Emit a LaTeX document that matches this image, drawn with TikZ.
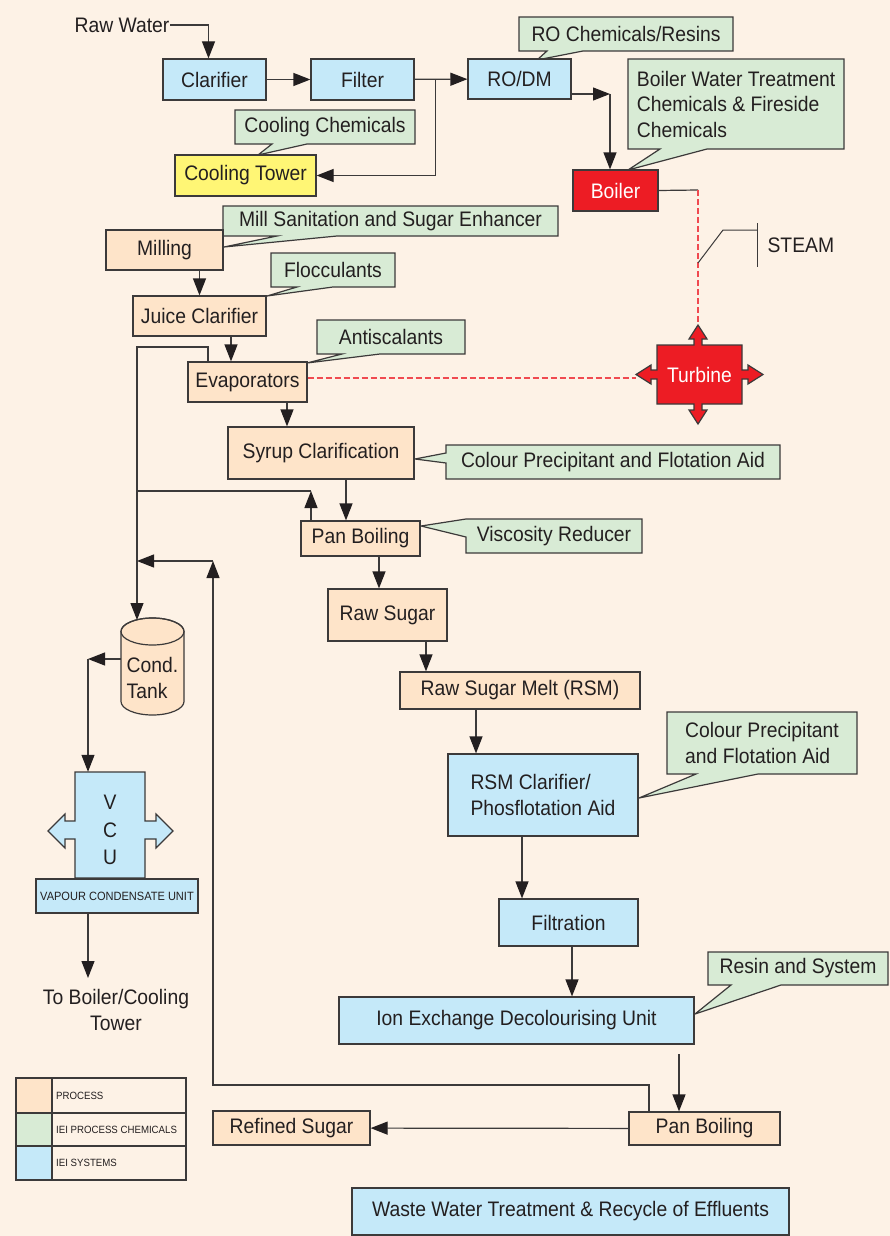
\documentclass[tikz,border=0pt]{standalone}
\usepackage{fontspec}
\setmainfont{Liberation Sans}[FakeStretch=0.92]
\usetikzlibrary{positioning, calc, arrows.meta, shapes.geometric}
\definecolor{bgpeach}{HTML}{FDF2E6}
\definecolor{procfill}{HTML}{FEE4C9}
\definecolor{chemfill}{HTML}{D8EBD5}
\definecolor{sysfill}{HTML}{C5E9F9}
\definecolor{towerfill}{HTML}{FFF675}
\definecolor{hotred}{HTML}{ED1C24}
\definecolor{steamred}{HTML}{F04A50}
\definecolor{linegray}{HTML}{3C3A3A}
\definecolor{inkgray}{HTML}{231F20}
\tikzset{
  box/.style={draw=linegray, line width=1.2pt, inner sep=0pt, text=inkgray, font=\fontsize{21}{25.5}\selectfont},
  proc/.style={box, fill=procfill},
  sys/.style={box, fill=sysfill},
  chembg/.style={draw=linegray, line width=1.2pt, fill=chemfill, line join=miter},
  chemtxt/.style={box, draw=none},
  flow/.style={draw=linegray, line width=1.2pt, -{Triangle[length=17pt,width=13pt,color=inkgray]}},
  pipe/.style={draw=linegray, line width=1.2pt},
  steampipe/.style={draw=steamred, line width=1.1pt, dash pattern=on 6pt off 3pt},
  legendtxt/.style={anchor=west, inner sep=0pt, text=inkgray, font=\fontsize{10.5}{12}\selectfont},
}
\begin{document}
\begin{tikzpicture}[x=1pt,y=-1pt]
\fill[bgpeach] (0,0) rectangle (890,1236);
\useasboundingbox (0,0) rectangle (890,1236);

\draw[chembg] (519,17) -- (733,17) -- (733,51) -- (583,51) -- (537,60) -- (547,51) -- (519,51) -- cycle;
\node[chemtxt] (rochem) at (626,34) {RO Chemicals/Resins};
\draw[chembg] (628,59) -- (844,59) -- (844,149) -- (707,149) -- (628,170) -- (660,149) -- (628,149) -- cycle;
\node[chemtxt, align=left] (boilchem) at (736,104) {Boiler Water Treatment\\Chemicals \& Fireside\\Chemicals};
\draw[chembg] (235,110) -- (415,110) -- (415,144) -- (307,144) -- (258,155) -- (272,144) -- (235,144) -- cycle;
\node[chemtxt] (coolchem) at (325,127) {Cooling Chemicals};
\draw[chembg] (223,206) -- (558,206) -- (558,236) -- (337,236) -- (224,247) -- (277,236) -- (223,236) -- cycle;
\node[chemtxt] (millchem) at (390.5,221) {Mill Sanitation and Sugar Enhancer};
\draw[chembg] (271,253) -- (395,253) -- (395,287) -- (333,287) -- (267,296) -- (297,287) -- (271,287) -- cycle;
\node[chemtxt] (flocc) at (333,270) {Flocculants};
\draw[chembg] (317,320) -- (465,320) -- (465,354) -- (380,354) -- (307,363) -- (342,354) -- (317,354) -- cycle;
\node[chemtxt] (anti) at (391,337) {Antiscalants};
\draw[chembg] (446,445) -- (780,445) -- (780,479) -- (446,479) -- (446,463) -- (415,459) -- (446,453) -- cycle;
\node[chemtxt] (colprec) at (613,462) {Colour Precipitant and Flotation Aid};
\draw[chembg] (466,519) -- (642,519) -- (642,553) -- (466,553) -- (466,537) -- (421,526) -- cycle;
\node[chemtxt] (visc) at (554,536) {Viscosity Reducer};
\draw[chembg] (667,712) -- (857,712) -- (857,774) -- (758,774) -- (639,798) -- (696,774) -- (667,774) -- cycle;
\node[chemtxt, align=left] (colprecb) at (762,743) {Colour Precipitant\\and Flotation Aid};
\draw[chembg] (708,952) -- (888,952) -- (888,985) -- (781,985) -- (695,1014) -- (731,985) -- (708,985) -- cycle;
\node[chemtxt] (resin) at (798,968.5) {Resin and System};

\node[box, draw=none] (raw) at (122,25) {Raw Water};
\node[sys, minimum width=103pt, minimum height=41pt] (clar) at (214.5,79.5) {Clarifier};
\node[sys, minimum width=103pt, minimum height=41pt] (filt) at (362.5,79.5) {Filter};
\node[sys, minimum width=103pt, minimum height=40pt] (rodm) at (519.5,79) {RO/DM};
\node[box, fill=towerfill, minimum width=141pt, minimum height=41pt] (tower) at (245.5,175.5) {Cooling Tower};
\node[box, fill=hotred, text=white, minimum width=85pt, minimum height=41pt] (boiler) at (615.5,190.5) {Boiler};
\node[proc, minimum width=117pt, minimum height=40pt] (mill) at (164.5,250) {Milling};
\node[proc, minimum width=133pt, minimum height=40pt] (juice) at (199.5,316) {Juice Clarifier};
\node[proc, minimum width=119pt, minimum height=40pt] (evap) at (247.5,382) {Evaporators};
\node[proc, minimum width=186pt, minimum height=52pt] (syrup) at (321,453) {Syrup Clarification};
\node[proc, minimum width=119pt, minimum height=35pt] (pan1) at (360.5,538.5) {Pan Boiling};
\node[proc, minimum width=119pt, minimum height=52pt] (rawsug) at (387.5,615) {Raw Sugar};
\node[proc, minimum width=240pt, minimum height=37pt] (rsm) at (520,690.5) {Raw Sugar Melt (RSM)};
\node[sys, minimum width=190pt, minimum height=82pt, align=left] (rsmclar) at (543,795) {RSM Clarifier/\\Phosflotation Aid};
\node[sys, minimum width=139pt, minimum height=47pt] (filtn) at (568.5,922.5) {Filtration};
\node[sys, minimum width=355pt, minimum height=47pt] (ion) at (516.5,1020.5) {Ion Exchange Decolourising Unit};
\node[proc, minimum width=151pt, minimum height=33pt] (pan2) at (704.5,1128.5) {Pan Boiling};
\node[proc, minimum width=157pt, minimum height=34pt] (refined) at (291.5,1128) {Refined Sugar};
\node[sys, minimum width=437pt, minimum height=47pt] (waste) at (570.5,1211.5) {Waste Water Treatment \& Recycle of Effluents};

\draw[linegray, line width=1.2pt, fill=hotred] (657,345) -- (694,345) -- (694,339) -- (689,339) -- (698,325) -- (707,339) -- (702,339) -- (702,345) -- (742,345) -- (742,370) -- (748,370) -- (748,365) -- (763,374.5) -- (748,384) -- (748,379) -- (742,379) -- (742,404) -- (702,404) -- (702,410) -- (707,410) -- (698,424) -- (689,410) -- (694,410) -- (694,404) -- (657,404) -- (657,379) -- (651,379) -- (651,384) -- (636,374.5) -- (651,365) -- (651,370) -- (657,370) -- cycle;
\node[box, draw=none, text=white] (turbine) at (699.5,374.5) {Turbine};

\draw[linegray, line width=1.2pt, fill=procfill] (121,631.5) -- (121,701.5) arc[start angle=180, end angle=360, x radius=31.5pt, y radius=13.5pt] -- (184,631.5) arc[start angle=0, end angle=180, x radius=31.5pt, y radius=13.5pt] -- cycle;
\draw[linegray, line width=1.2pt] (152.5,631.5) ellipse[x radius=31.5pt, y radius=13.5pt];
\node[minimum width=63pt, minimum height=97pt, inner sep=0pt] (tank) at (152.5,666.5) {};
\node[box, draw=none, align=left] (tanktxt) at (152.5,678) {Cond.\\Tank};

\draw[linegray, line width=1.2pt, fill=sysfill] (75,772) -- (145,772) -- (145,821) -- (156,821) -- (156,814) -- (173,831) -- (156,848) -- (156,839) -- (145,839) -- (145,878) -- (75,878) -- (75,839) -- (65,839) -- (65,848) -- (48,831) -- (65,814) -- (65,821) -- (75,821) -- cycle;
\node[minimum width=70pt, minimum height=106pt, inner sep=0pt] (vcu) at (110,825) {};
\node[box, draw=none, align=center, font=\fontsize{21}{27.5}\selectfont] (vcutxt) at (110,830) {V\\C\\U};
\node[sys, minimum width=162pt, minimum height=34pt, font=\fontsize{12}{14}\selectfont] (vcuunit) at (117,896) {VAPOUR CONDENSATE UNIT};
\node[box, draw=none, align=center] (tobl) at (116,1010) {To Boiler/Cooling\\Tower};

\draw[flow] (raw.east) -| ([xshift=-6pt]clar.north);
\draw[flow] (clar) -- (filt);
\draw[flow] (filt) -- (rodm);
\draw[flow] (filt.east) -- ++(21,0) |- (tower.east);
\coordinate (robend) at (610,94);
\draw[flow] ([yshift=-15pt]rodm.east) -- (robend);
\draw[flow] (robend) -- (robend |- boiler.north);
\coordinate (bturn) at (698,190);
\coordinate (turbN) at (698,325);
\draw[pipe] (boiler.east) -- (bturn);
\draw[steampipe] (bturn) -- (turbN);
\coordinate (stm) at (698,263);
\draw[pipe, line width=1pt] (stm) -- (723,230) -- (757,230);
\draw[pipe, line width=1pt] (757,223) -- (757,267);
\node[box, draw=none, anchor=west] (steam) at (767,245) {STEAM};
\coordinate (turbW) at (636,378);
\draw[steampipe] ([yshift=4pt]evap.east) -- (turbW);

\draw[flow] (juice.north |- mill.south) -- (juice.north);
\draw[flow] ([xshift=31.5pt]juice.south) -- ([xshift=-16.5pt]evap.north);
\draw[flow] ([xshift=39.5pt]evap.south) -- ([xshift=-34pt]syrup.north);
\draw[flow] ([xshift=25pt]syrup.south) -- ([xshift=-14.5pt]pan1.north);
\draw[flow] ([xshift=18.5pt]pan1.south) -- ([xshift=-8.5pt]rawsug.north);
\draw[flow] ([xshift=38.5pt]rawsug.south) -- ([xshift=-94pt]rsm.north);
\draw[flow] ([xshift=-44pt]rsm.south) -- ([xshift=-67pt]rsmclar.north);
\draw[flow] ([xshift=-21pt]rsmclar.south) -- ([xshift=-46.5pt]filtn.north);
\draw[flow] ([xshift=3.5pt]filtn.south) -- ([xshift=55.5pt]ion.north);
\coordinate (ionout) at (679,1054);
\draw[flow] (ionout) -- (ionout |- pan2.north);
\draw[flow] (pan2) -- (refined);

\coordinate (recA) at (213,1085);
\coordinate (recB) at (213,561);
\coordinate (recC) at (137,561);
\draw[flow] ([xshift=-55.5pt]pan2.north) |- (recA) -- (recB);
\draw[flow] (recB) -- (recC);
\coordinate (condtop) at (137,347);
\coordinate (tanklid) at (137,620);
\draw[flow] ([xshift=-39.5pt]evap.north) |- (condtop) -- (tanklid);
\coordinate (panup) at (311,491);
\coordinate (panjoin) at (137,491);
\draw[flow] ([xshift=-49.5pt]pan1.north) -- (panup);
\draw[pipe] (panup) -- (panjoin);
\coordinate (tankbend) at (88,659);
\draw[flow] ([yshift=7.5pt]tank.west) -- (tankbend);
\draw[flow] (tankbend) -- (tankbend |- vcu.north);
\coordinate (vcuout) at (88,978);
\draw[flow] (vcuout |- vcuunit.south) -- (vcuout);

\draw[pipe] (16,1078) rectangle (186,1180);
\fill[procfill] (17,1079) rectangle (52,1113);
\fill[chemfill] (17,1113) rectangle (52,1146);
\fill[sysfill] (17,1146) rectangle (52,1179);
\draw[pipe] (52,1078) -- (52,1180);
\draw[pipe] (16,1113) -- (186,1113);
\draw[pipe] (16,1146) -- (186,1146);
\node[legendtxt] (lgproc) at (56,1096) {PROCESS};
\node[legendtxt] (lgchem) at (56,1129.5) {IEI PROCESS CHEMICALS};
\node[legendtxt] (lgsys) at (56,1163) {IEI SYSTEMS};
\end{tikzpicture}
\end{document}
